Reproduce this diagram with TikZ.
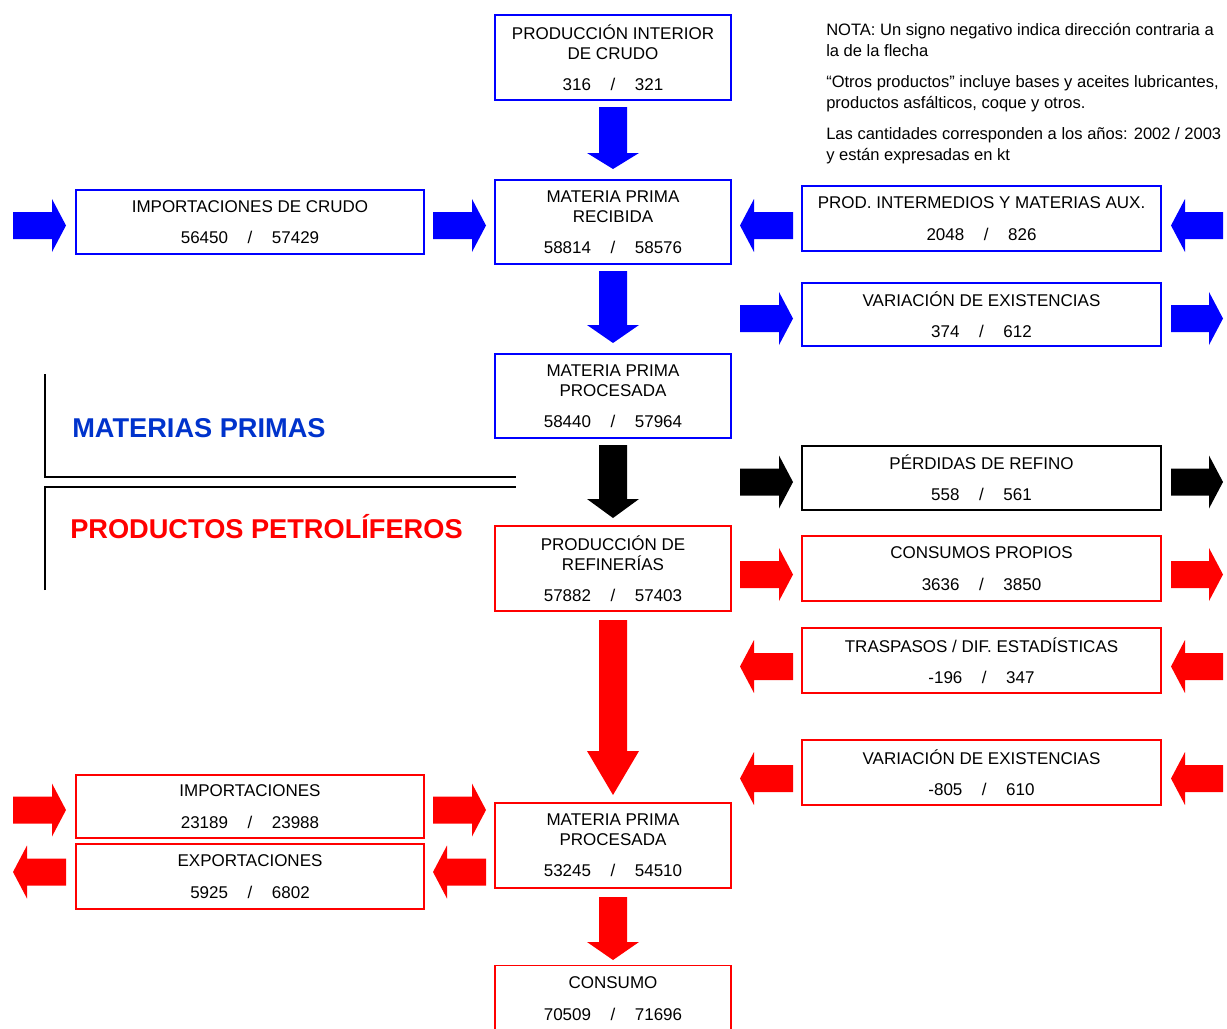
\documentclass[tikz,border=0pt]{standalone}
\usepackage{fontspec}
\setmainfont{Liberation Sans}
\definecolor{bblue}{RGB}{0,0,255}
\definecolor{hblue}{RGB}{0,51,204}
\definecolor{rred}{RGB}{255,0,0}
\newcommand\harrowR[4]{\fill[#4] (#1,#3-13.5) -- (#2-14,#3-13.5) -- (#2-14,#3-26.5) -- (#2,#3) -- (#2-14,#3+26.5) -- (#2-14,#3+13.5) -- (#1,#3+13.5) -- cycle;}
\newcommand\harrowL[4]{\fill[#4] (#2,#3-13.5) -- (#1+14,#3-13.5) -- (#1+14,#3-26.5) -- (#1,#3) -- (#1+14,#3+26.5) -- (#1+14,#3+13.5) -- (#2,#3+13.5) -- cycle;}
\newcommand\varrowD[5]{\fill[#4] (#1-14,#2) -- (#1+14,#2) -- (#1+14,#3-#5) -- (#1+26,#3-#5) -- (#1,#3) -- (#1-26,#3-#5) -- (#1-14,#3-#5) -- cycle;}
\newcommand\vals[2]{#1\hspace{1.15em}/\hspace{1.15em}#2}
\begin{document}
\begin{tikzpicture}[x=0.75pt,y=-0.75pt,
  box/.style={draw=#1, line width=1pt, fill=white, align=center, inner sep=0pt,
    font=\fontsize{12.75}{15}\selectfont},
  box/.default=bblue,
  note/.style={anchor=base west, inner sep=0pt, font=\fontsize{12.4}{15}\selectfont},
  heading/.style={anchor=west, inner sep=0pt, font=\fontsize{20.4}{24}\selectfont\bfseries}]
\useasboundingbox (0,0) rectangle (1227,1028);

% central column
\node[box, minimum width=177pt, minimum height=63.75pt] (pic) at (613,57.5) {PRODUCCIÓN INTERIOR\\DE CRUDO\\[8.5pt]\vals{316}{321}};
\node[box, minimum width=177pt, minimum height=63pt] (mpr) at (613,222) {MATERIA PRIMA\\RECIBIDA\\[8.5pt]\vals{58814}{58576}};
\node[box, minimum width=177pt, minimum height=63pt] (mpp) at (613,396) {MATERIA PRIMA\\PROCESADA\\[8.5pt]\vals{58440}{57964}};
\node[box=rred, minimum width=177pt, minimum height=63.75pt] (pref) at (613,568.5) {PRODUCCIÓN DE\\REFINERÍAS\\[8.5pt]\vals{57882}{57403}};
\node[box=rred, minimum width=177pt, minimum height=63.75pt] (mpp2) at (613,845.5) {MATERIA PRIMA\\PROCESADA\\[8.5pt]\vals{53245}{54510}};
\node[box=rred, minimum width=177pt, minimum height=49.5pt] (cons) at (613,998.5) {CONSUMO\\[8.5pt]\vals{70509}{71696}};

% left column
\node[box, minimum width=261pt, minimum height=48pt] (impc) at (250,222) {IMPORTACIONES DE CRUDO\\[8.5pt]\vals{56450}{57429}};
\node[box=rred, minimum width=261pt, minimum height=47.25pt] (imp) at (250,806.5) {IMPORTACIONES\\[8.5pt]\vals{23189}{23988}};
\node[box=rred, minimum width=261pt, minimum height=48.75pt] (exp) at (250,876.5) {EXPORTACIONES\\[8.5pt]\vals{5925}{6802}};

% right column
\node[box, minimum width=269.25pt, minimum height=48.75pt] (pint) at (981.5,218.5) {PROD. INTERMEDIOS Y MATERIAS AUX.\\[8.5pt]\vals{2048}{826}};
\node[box, minimum width=269.25pt, minimum height=47.25pt] (vex) at (981.5,314.5) {VARIACIÓN DE EXISTENCIAS\\[8.5pt]\vals{374}{612}};
\node[box=black, minimum width=269.25pt, minimum height=48pt] (perd) at (981.5,478) {PÉRDIDAS DE REFINO\\[8.5pt]\vals{558}{561}};
\node[box=rred, minimum width=269.25pt, minimum height=48.75pt] (cpro) at (981.5,568.5) {CONSUMOS PROPIOS\\[8.5pt]\vals{3636}{3850}};
\node[box=rred, minimum width=269.25pt, minimum height=48.75pt] (trasp) at (981.5,660.5) {TRASPASOS / DIF. ESTADÍSTICAS\\[8.5pt]\vals{-196}{347}};
\node[box=rred, minimum width=269.25pt, minimum height=48.75pt] (vex2) at (981.5,772.5) {VARIACIÓN DE EXISTENCIAS\\[8.5pt]\vals{-805}{610}};

% vertical arrows
\varrowD{613}{107}{169}{bblue}{16}
\varrowD{613}{271}{343}{bblue}{18}
\varrowD{613}{445}{518}{black}{19}
\varrowD{613}{620}{795}{rred}{44}
\varrowD{613}{897}{960}{rred}{18}

% horizontal arrows, left
\harrowR{13}{66}{225.5}{bblue}
\harrowR{433}{486}{225.5}{bblue}
\harrowR{13}{66}{810}{rred}
\harrowR{433}{486}{810}{rred}
\harrowL{13}{66}{872}{rred}
\harrowL{433}{486}{872}{rred}

% horizontal arrows, right
\harrowL{740}{793}{225.5}{bblue}
\harrowL{1171}{1223}{225.5}{bblue}
\harrowR{740}{793}{318.5}{bblue}
\harrowR{1171}{1223}{318.5}{bblue}
\harrowR{740}{793}{482}{black}
\harrowR{1171}{1223}{482}{black}
\harrowR{740}{793}{574.5}{rred}
\harrowR{1171}{1223}{574.5}{rred}
\harrowL{740}{793}{666.5}{rred}
\harrowL{1171}{1223}{666.5}{rred}
\harrowL{740}{793}{778.5}{rred}
\harrowL{1171}{1223}{778.5}{rred}

% section lines
\draw[line width=1pt] (45,374) -- (45,477) -- (516,477);
\draw[line width=1pt] (45,590) -- (45,487) -- (516,487);
\node[heading, text=hblue] (hmp) at (72,428) {MATERIAS PRIMAS};
\node[heading, text=rred] (hpp) at (70,527) {PRODUCTOS PETROLÍFEROS};

% note
\node[note] (n1) at (826,36) {NOTA: Un signo negativo indica dirección contraria a};
\node[note] (n2) at (826,56) {la de la flecha};
\node[note] (n3) at (826,87) {“Otros productos” incluye bases y aceites lubricantes,};
\node[note] (n4) at (826,108) {productos asfálticos, coque y otros.};
\node[note] (n5) at (826,139) {Las cantidades corresponden a los años: 2002 / 2003};
\node[note] (n6) at (826,160) {y están expresadas en kt};
\end{tikzpicture}
\end{document}
